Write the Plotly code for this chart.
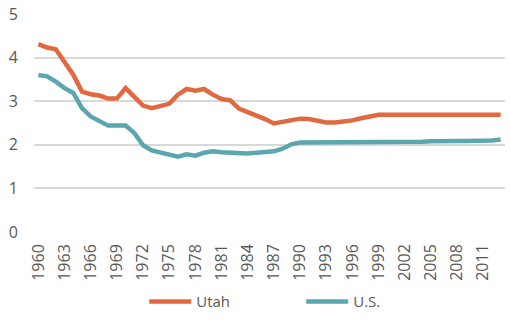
import plotly.graph_objects as go

years = [str(y) for y in range(1960, 2014)]
utah = [4.31, 4.23, 4.19, 3.91, 3.61, 3.22, 3.16, 3.13, 3.06, 3.06,
        3.30, 3.10, 2.90, 2.84, 2.88, 2.94, 3.15, 3.28, 3.24, 3.28,
        3.15, 3.05, 3.02, 2.83, 2.75, 2.68, 2.59, 2.49, 2.53, 2.58,
        2.60, 2.59, 2.55, 2.51, 2.51, 2.53, 2.56, 2.61, 2.66, 2.69,
        2.69, 2.69, 2.69, 2.69, 2.69, 2.69, 2.69, 2.69, 2.69, 2.69,
        2.69, 2.69, 2.69, 2.69]
us = [3.60, 3.57, 3.45, 3.30, 3.19, 2.84, 2.65, 2.54, 2.44, 2.44,
      2.44, 2.27, 1.99, 1.87, 1.83, 1.78, 1.73, 1.78, 1.75, 1.82,
      1.85, 1.83, 1.82, 1.80, 1.80, 1.82, 1.83, 1.85, 1.91, 2.01,
      2.05, 2.05, 2.05, 2.05, 2.05, 2.06, 2.07, 2.07, 2.07, 2.07,
      2.07, 2.07, 2.07, 2.07, 2.07, 2.08, 2.09, 2.09, 2.09, 2.09,
      2.09, 2.09, 2.10, 2.12]
tick_years = [str(y) for y in range(1960, 2014, 3)]

fig = go.Figure()
fig.add_trace(go.Scatter(x=years, y=utah, name="Utah", mode="lines",
                         line=dict(color="#E1693F", width=4.5)))
fig.add_trace(go.Scatter(x=years, y=us, name="U.S.", mode="lines",
                         line=dict(color="#5BA7AF", width=4.5)))

fig.update_layout(
    width=510, height=322,
    margin=dict(l=34, r=5, t=14, b=90, autoexpand=False),
    paper_bgcolor="white", plot_bgcolor="white",
    font=dict(family="Open Sans", size=14, color="#595959"),
    showlegend=True,
    legend=dict(orientation="h", x=0.234, xanchor="left", y=-0.32, yanchor="middle",
                font=dict(size=15, color="#595959"), entrywidth=100, itemwidth=42,
                bgcolor="rgba(0,0,0,0)"),
)
fig.update_xaxes(type="category", range=[-0.5, 53.5], tickmode="array",
                 tickvals=tick_years, ticktext=tick_years, tickangle=-90,
                 showgrid=False, showline=False, ticks="", ticklabelstandoff=8,
                 automargin=False, tickfont=dict(size=16, color="#595959"))
fig.update_yaxes(range=[0, 5], dtick=1, showgrid=True, gridcolor="#D9D9D9",
                 gridwidth=1.5, zeroline=False, showline=False, ticks="",
                 automargin=False,
                 ticklabelstandoff=15, tickfont=dict(size=16, color="#595959"))

fig.write_html("out.html")
